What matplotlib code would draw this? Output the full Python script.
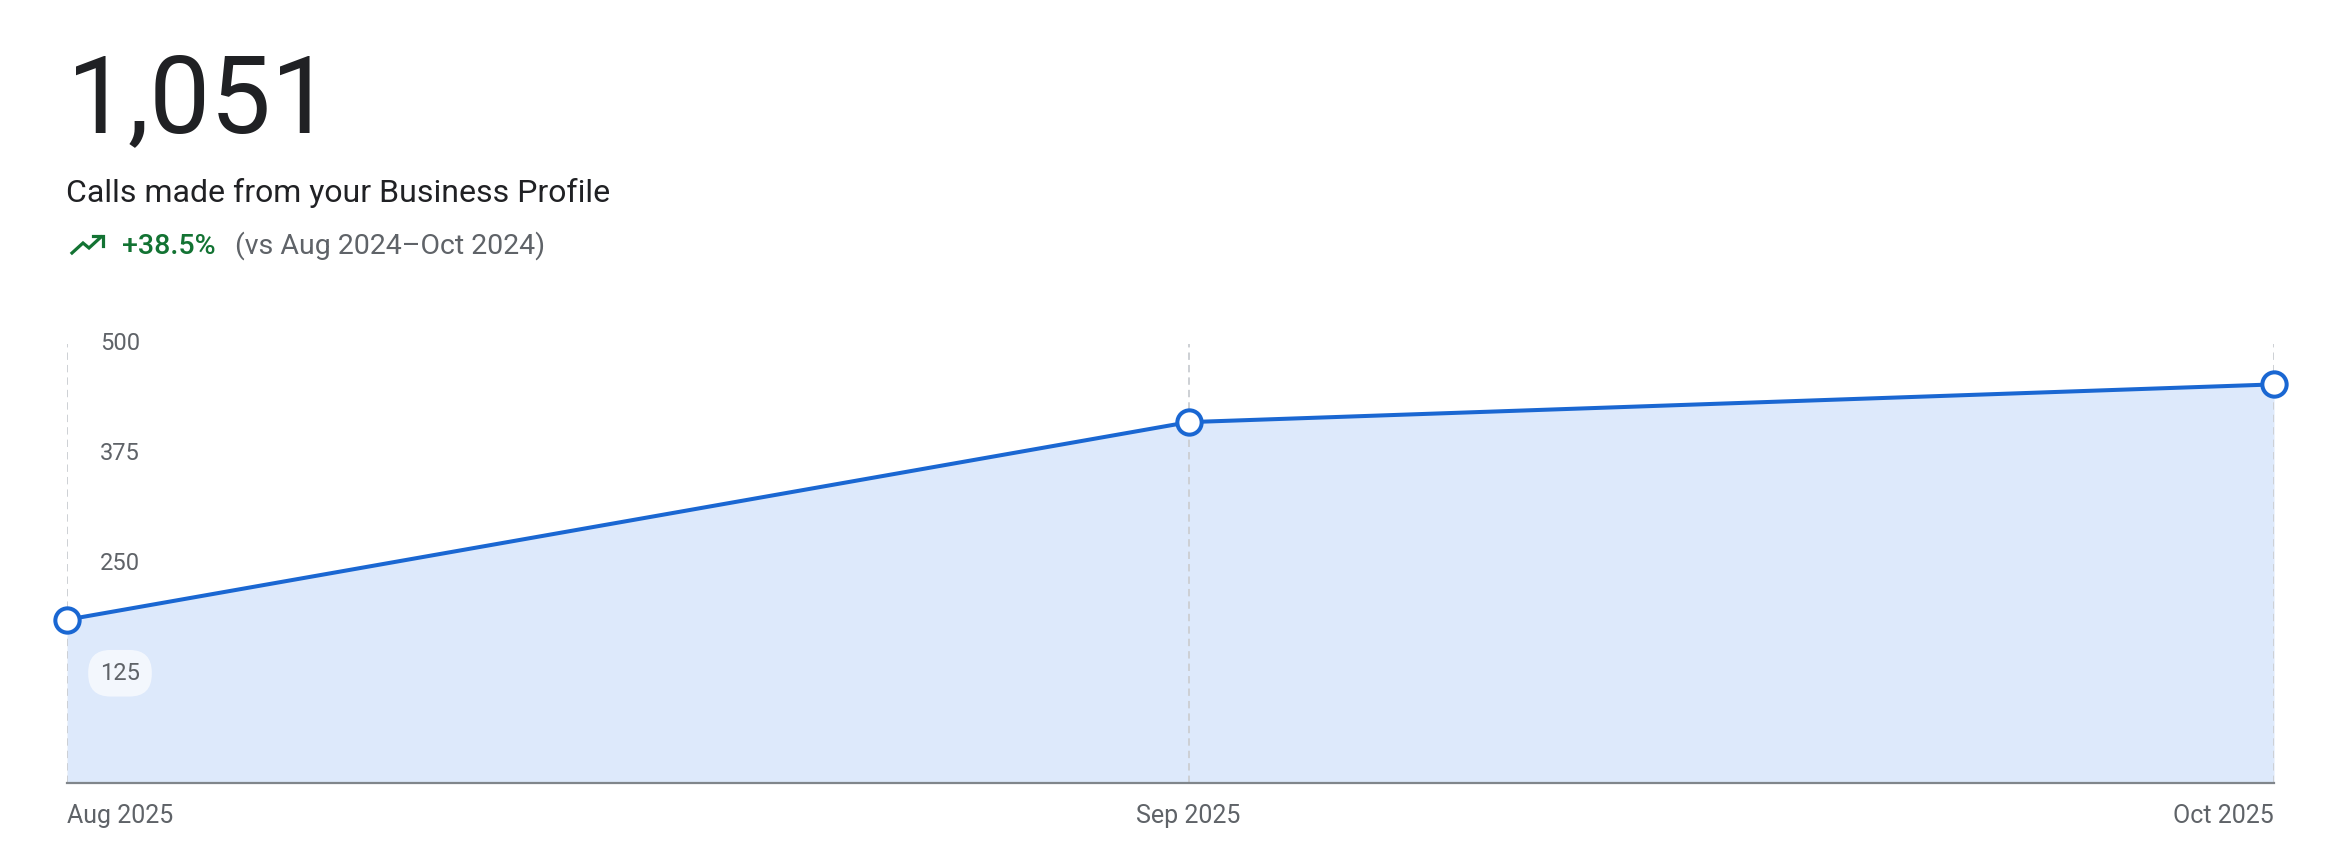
import matplotlib
matplotlib.use("Agg")
import matplotlib.pyplot as plt
import matplotlib.dates as mdates
from matplotlib.lines import Line2D
import datetime as dt

# ---- data ----
dates = ["2025-08-01", "2025-09-01", "2025-10-01"]
month_labels = ["Aug 2025", "Sep 2025", "Oct 2025"]
calls = [186, 411, 454]
y_ticks = [125, 250, 375, 500]
total_label = "1,051"
subtitle = "Calls made from your Business Profile"
change_label = "+38.5%"
compare_label = "(vs Aug 2024\u2013Oct 2024)"

plt.rcParams['font.family'] = ['Roboto', 'DejaVu Sans']

W, H = 2344, 864
DPI = 100
fig = plt.figure(figsize=(W / DPI, H / DPI), dpi=DPI)
fig.patch.set_facecolor("white")

def fx(px):
    return px / W

def fy(py):
    return 1 - py / H

PT = 72 / DPI  # points per pixel

# axes placement (pixels)
left, right, top, bottom = 67, 2274, 344, 783
ax = fig.add_axes([fx(left), fy(bottom), fx(right - left), (bottom - top) / H])

LINE = "#1a67d2"
FILL = "#dde9fb"
GRID = "#cdd0d4"
TEXT_GREY = "#5f6368"

x = [dt.datetime.strptime(d, "%Y-%m-%d") for d in dates]
xn = mdates.date2num(x)

ax.fill_between(xn, calls, 0, color=FILL, zorder=1, linewidth=0)
for xi in xn:
    ax.axvline(xi, color=GRID, linestyle=(0, (3.8, 2.6)), linewidth=1.4, zorder=2)
ax.plot(xn, calls, color=LINE, linewidth=2.9, zorder=3, solid_capstyle="round")
ax.plot(xn, calls, linestyle="none", marker="o", markersize=17.5,
        markerfacecolor="white", markeredgecolor=LINE, markeredgewidth=2.9,
        zorder=4, clip_on=False)

ax.set_xlim(xn[0], xn[-1])
ax.set_ylim(0, 500)
ax.set_xticks([])
ax.set_yticks([])
for s in ["top", "left", "right"]:
    ax.spines[s].set_visible(False)
ax.spines["bottom"].set_color("#80868b")
ax.spines["bottom"].set_linewidth(1.6)
ax.patch.set_alpha(0)

# y tick labels inside the plot
for t in y_ticks:
    kw = {}
    if t <= 150:
        kw["bbox"] = dict(boxstyle="round,pad=0.5,rounding_size=0.95",
                          facecolor="white", edgecolor="none", alpha=0.65)
    ax.text((100 - left) / (right - left), t, str(t),
            transform=ax.get_yaxis_transform(), ha="left", va="center",
            fontsize=17, color=TEXT_GREY, zorder=5, **kw)

# x labels
aligns = ["left", "center", "right"]
for xi, lab, ha in zip(xn, month_labels, aligns):
    ax.annotate(lab, xy=(xi, 0), xycoords=("data", "axes fraction"),
                xytext=(0, -40 * PT), textcoords="offset points",
                ha=ha, va="baseline", fontsize=18, color=TEXT_GREY)

# header texts
fig.text(fx(67), fy(132), total_label, fontsize=78, color="#202124",
         ha="left", va="baseline")
fig.text(fx(66), fy(202), subtitle, fontsize=23, color="#202124",
         ha="left", va="baseline")
fig.text(fx(122), fy(254), change_label, fontsize=20.5, color="#137333",
         ha="left", va="baseline", fontweight="medium")
fig.text(fx(235), fy(254), compare_label, fontsize=20.5, color=TEXT_GREY,
         ha="left", va="baseline")

# trending-up icon
GREEN = "#137333"
pts = [(72, 253), (83, 243), (89, 248), (101, 237)]
fig.add_artist(Line2D([fx(p[0]) for p in pts], [fy(p[1]) for p in pts],
                      color=GREEN, linewidth=2.3, transform=fig.transFigure,
                      solid_joinstyle="miter"))
head = [(93.5, 236), (103, 236), (103, 245.5)]
fig.add_artist(Line2D([fx(p[0]) for p in head], [fy(p[1]) for p in head],
                      color=GREEN, linewidth=2.3, transform=fig.transFigure,
                      solid_joinstyle="miter"))

fig.savefig("out.png", dpi=DPI, facecolor="white")
